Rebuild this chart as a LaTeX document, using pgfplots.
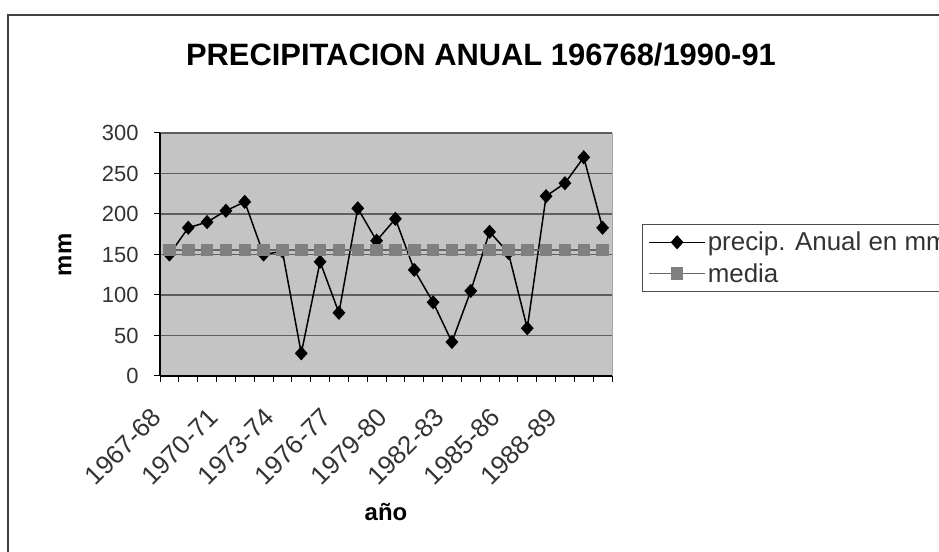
\documentclass[border=0pt]{standalone}
\usepackage{fontspec}
\setmainfont{Liberation Sans}
\usepackage{pgfplots}
\pgfplotsset{compat=1.18}
\usepackage{pgfplotstable}

\definecolor{plotgray}{RGB}{196,196,196}
\definecolor{gridgray}{RGB}{95,95,95}
\definecolor{mediagray}{RGB}{128,128,128}

% precipitacion anual (mm) y media
\pgfplotstableread{
idx mm  media
0   150 155.5
1   183 155.5
2   190 155.5
3   204 155.5
4   215 155.5
5   150 155.5
6   154 155.5
7   28  155.5
8   141 155.5
9   78  155.5
10  207 155.5
11  167 155.5
12  194 155.5
13  131 155.5
14  91  155.5
15  42  155.5
16  105 155.5
17  178 155.5
18  152 155.5
19  59  155.5
20  222 155.5
21  238 155.5
22  270 155.5
23  183 155.5
}\precip

\begin{document}
\begin{tikzpicture}[x=1bp,y=1bp]
\clip (0,0) rectangle (939,552);
\fill[white] (0,0) rectangle (939,552);
% marco exterior
\draw[line width=2bp, black!75] (8,0) -- (8,537) -- (939,537);

\begin{axis}[
  at={(160bp,176bp)}, anchor=south west,
  scale only axis, width=452bp, height=243bp,
  xmin=-0.5, xmax=23.5, ymin=0, ymax=300,
  axis x line*=bottom, axis y line*=left,
  axis line style={line width=1.3bp, black},
  axis background/.style={fill=plotgray},
  ytick={0,50,...,300},
  ymajorgrids,
  grid style={draw=gridgray, line width=1.3bp},
  xtick={-0.5,0.5,...,23.5},
  xticklabels={},
  extra x ticks={0,3,...,21},
  extra x tick labels={1967-68,1970-71,1973-74,1976-77,1979-80,1982-83,1985-86,1988-89},
  extra x tick style={major tick length=0pt, grid=none,
    tick label style={rotate=45, anchor=north east, inner sep=1bp,
      xshift=-34bp, yshift=-7bp, font=\fontsize{26}{28}\selectfont}},
  yticklabel style={xshift=-12bp},
  tick align=outside,
  major tick length=6bp,
  tick style={line width=1bp, black},
  /pgf/number format/assume math mode=true,
  tick label style={font=\fontsize{22}{24}\selectfont, text=black!80},
  legend style={at={(1.066,0.345)}, anchor=south west,
    draw=black!70, fill=white, line width=1bp,
    font=\fontsize{26}{29}\selectfont, text=black!80,
    row sep=7bp, inner xsep=6bp, inner ysep=6bp},
  legend cell align=left,
  legend image code/.code={%
    \draw[#1, mark repeat=2, mark phase=2] plot coordinates {(0bp,0bp) (28bp,0bp) (56bp,0bp)};},
  after end axis/.code={%
    \draw[black!35, line width=1bp] (rel axis cs:1,0) -- (rel axis cs:1,1);},
]
\addplot[black, line width=1.5bp, mark=diamond*, mark size=6bp,
  mark options={fill=black, solid, xscale=1.2}] table[x=idx, y=mm] {\precip};
\addlegendentry{precip. Anual en mm}
\addplot[mediagray!80!black, line width=1.5bp, mark=square*, mark size=5.5bp,
  mark options={fill=mediagray, draw=mediagray}] table[x=idx, y=media] {\precip};
\addlegendentry{media}
\end{axis}

\node[font=\fontsize{31}{34}\selectfont\bfseries] at (481,497) {PRECIPITACION ANUAL 196768/1990-91};
\node[font=\fontsize{24}{26}\selectfont\bfseries, rotate=90] at (65,297) {mm};
\node[font=\fontsize{24}{26}\selectfont\bfseries] at (386,40) {año};
\end{tikzpicture}
\end{document}
